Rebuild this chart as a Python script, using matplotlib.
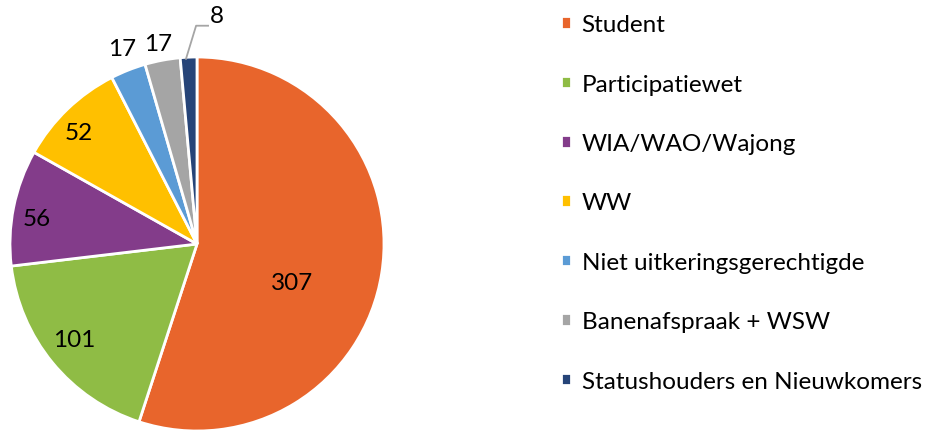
import matplotlib.pyplot as plt
import numpy as np

categories = ['Student', 'Participatiewet', 'WIA/WAO/Wajong', 'WW',
              'Niet uitkeringsgerechtigde', 'Banenafspraak + WSW',
              'Statushouders en Nieuwkomers']
values = [307, 101, 56, 52, 17, 17, 8]
colors = ['#E8652C', '#8FBC45', '#833C8A', '#FFC000', '#5B9BD5', '#A5A5A5', '#264478']

# label placement: (radius as fraction of pie radius, angle shift in degrees)
label_pos = [(0.55, -12.8), (0.83, -1.5), (0.87, 2.3), (0.87, 2.9),
             (1.12, -0.6), (1.09, 0.4), (1.225, -7.6)]

plt.rcParams['font.family'] = ['Lato', 'DejaVu Sans']

fig = plt.figure(figsize=(9.3, 4.31), dpi=100)
R = 187.0
ax = fig.add_axes([0, 0, 394 / 930, 1])
wedges, _ = ax.pie(values, colors=colors, startangle=90, counterclock=False,
                   radius=1.0, wedgeprops=dict(edgecolor='white', linewidth=2))
ax.set_xlim(-197 / R, 197 / R)
ax.set_ylim(-186 / R, 245 / R)
ax.set_aspect('auto')
ax.set_axis_off()

for w, v, (r, shift) in zip(wedges, values, label_pos):
    mid = np.deg2rad((w.theta1 + w.theta2) / 2 + shift)
    x, y = r * np.cos(mid), r * np.sin(mid)
    ax.text(x, y, str(v), ha='center', va='center', fontsize=17.5, color='black')
    if r > 1.15:
        # leader line for the small slice
        ax.plot([x - 0.166, x - 0.112, x - 0.048], [y - 0.23, y - 0.053, y - 0.053],
                color='#A5A5A5', lw=1.3, clip_on=False)

fig.legend(wedges, categories, loc='upper left', bbox_to_anchor=(549 / 930, 1 - 3 / 431),
           frameon=False, fontsize=17.5, handlelength=0.42, handleheight=0.42,
           handletextpad=0.42, labelspacing=1.58, borderpad=0)

fig.savefig('out.png', dpi=100)
